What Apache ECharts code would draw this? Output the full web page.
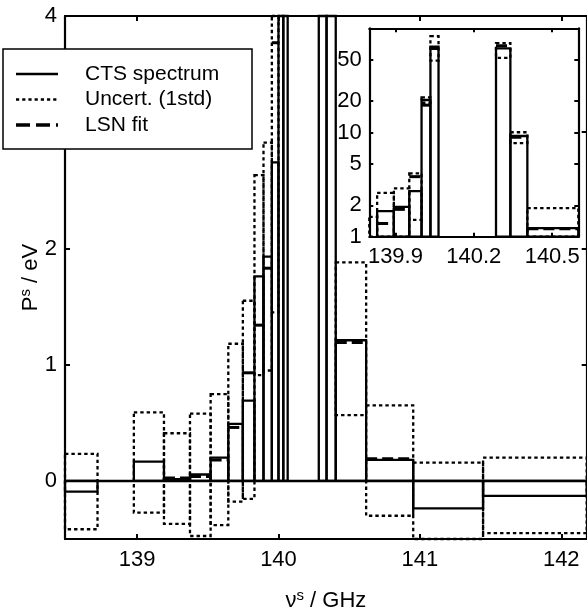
<!DOCTYPE html>
<html><head><meta charset="utf-8">
<script src="https://cdn.jsdelivr.net/npm/echarts@6/dist/echarts.min.js"></script>
<style>html,body{margin:0;padding:0;background:#fff}#c{width:587px;height:612px}</style>
</head><body><div id="c"></div>
<script>
// ---- data (GHz, eV) ----
const binLeft  = [138.28, 138.977, 139.19, 139.374, 139.52, 139.645, 139.748, 139.830, 139.894, 139.953, 140.000, 140.034, 140.285, 140.340, 140.405, 140.620, 140.953, 141.447];
const binRight = [138.72, 139.19, 139.374, 139.52, 139.645, 139.748, 139.830, 139.894, 139.953, 140.000, 140.034, 140.065, 140.340, 140.405, 140.620, 140.953, 141.447, 142.30];
const ctsValues   = [-0.092, 0.166, 0.015, 0.055, 0.20, 0.49, 0.69, 1.76, 1.93, 2.74, 20.5, 66.5, 64.3, 9.26, 1.21, 0.181, -0.236, -0.129];
const lsnValues   = [0.0, 0.0, 0.025, 0.037, 0.18, 0.46, 0.93, 1.34, 1.83, 3.77, 18.3, 64.0, 68.0, 9.0, 1.19, 0.19, 0.0, 0.0];
const upperValues = [0.233, 0.589, 0.41, 0.578, 0.747, 1.18, 1.55, 2.63, 2.91, 4.06, 21.7, 84.0, 72.0, 10.05, 1.88, 0.65, 0.158, 0.20];
const lowerValues = [-0.416, -0.273, -0.37, -0.474, -0.38, -0.178, -0.155, 0.91, 0.95, 1.45, 19.3, 49.0, 52.0, 7.9, 0.566, -0.30, -0.63, -0.45];
const mainXTicks  = [139, 140, 141, 142];
const mainYTicks  = [0, 1, 2, 3, 4];
const insetXTicks = [139.9, 140.2, 140.5];
const insetYTicks = [1, 2, 5, 10, 20, 50];
const legendLabels = ['CTS spectrum', 'Uncert. (1std)', 'LSN fit'];

const FONT = '"Liberation Sans", Arial, Helvetica, sans-serif';
const chart = echarts.init(document.getElementById('c'), null, {renderer: 'canvas', width: 587, height: 612});

const ctsRows = binLeft.map((l, i) => [l, binRight[i], 0, ctsValues[i]]);
const uncRows = binLeft.map((l, i) => [l, binRight[i], lowerValues[i], upperValues[i]]);
const lsnRows = binLeft.map((l, i) => [l, binRight[i], lsnValues[i]]);

function rectRender(style, logMode) {
  return function (params, api) {
    const l = api.value(0), r = api.value(1);
    let lo = api.value(2), hi = api.value(3);
    if (logMode) { lo = Math.log10(Math.max(lo, 0.1)); hi = Math.log10(Math.max(hi, 0.1)); }
    const p0 = api.coord([l, lo]), p1 = api.coord([r, hi]);
    const rect = {x: Math.min(p0[0], p1[0]), y: Math.min(p0[1], p1[1]),
                  width: Math.abs(p1[0] - p0[0]), height: Math.abs(p1[1] - p0[1])};
    const cs = params.coordSys;
    const c = echarts.graphic.clipRectByRect(rect, {x: cs.x, y: cs.y, width: cs.width, height: cs.height});
    if (!c) return null;
    return {type: 'rect', shape: c, style: Object.assign({fill: 'none'}, style)};
  };
}
function segRender(style, logMode) {
  return function (params, api) {
    const l = api.value(0), r = api.value(1);
    let v = api.value(2);
    if (v === 0) return null;
    if (logMode) { if (v <= 0) return null; v = Math.log10(v); }
    const p0 = api.coord([l, v]), p1 = api.coord([r, v]);
    const cs = params.coordSys;
    if (p0[1] < cs.y - 0.5 || p0[1] > cs.y + cs.height + 0.5) return null;
    const x0 = Math.max(cs.x, Math.min(p0[0], p1[0]));
    const x1 = Math.min(cs.x + cs.width, Math.max(p0[0], p1[0]));
    if (x1 <= x0) return null;
    return {type: 'line', shape: {x1: x0, y1: p0[1], x2: x1, y2: p0[1]}, style: Object.assign({fill: 'none'}, style)};
  };
}

const solidStyle = {stroke: '#000', lineWidth: 2.3};
const dotStyle = {stroke: '#000', lineWidth: 2.3, lineDash: [3.4, 3]};
const dashStyle = {stroke: '#000', lineWidth: 3, lineDash: [11, 5]};

function seriesSet(xi, yi, logMode, zBase) {
  return [
    {type: 'custom', name: legendLabels[1], xAxisIndex: xi, yAxisIndex: yi, z: zBase, data: uncRows,
     encode: {x: [0, 1], y: [2, 3]}, renderItem: rectRender(dotStyle, logMode), silent: true},
    {type: 'custom', name: legendLabels[0], xAxisIndex: xi, yAxisIndex: yi, z: zBase + 1, data: ctsRows,
     encode: {x: [0, 1], y: [2, 3]}, renderItem: rectRender(solidStyle, logMode), silent: true,
     markLine: logMode ? undefined : {silent: true, symbol: 'none', label: {show: false},
       lineStyle: {color: '#000', width: 2.4, type: 'solid'}, data: [{yAxis: 0}]}},
    {type: 'custom', name: legendLabels[2], xAxisIndex: xi, yAxisIndex: yi, z: zBase + 2, data: lsnRows,
     encode: {x: [0, 1], y: 2}, renderItem: segRender(dashStyle, logMode), silent: true}
  ];
}

const axLine = {show: true, onZero: false, lineStyle: {color: '#000', width: 2.2}};
const tickStyle = {color: '#000', width: 2};
const labelBase = {color: '#000', fontSize: 22, fontFamily: FONT};

const mainXMin = 138.49, mainXMax = 142.18;
const option = {
  backgroundColor: '#fff',
  animation: false,
  grid: [
    {left: 65, top: 16, width: 521.7, height: 523, outerBoundsMode: 'none', containLabel: false},
    {left: 369.3, top: 28.3, width: 209, height: 208.4, outerBoundsMode: 'none', containLabel: false,
     show: true, backgroundColor: '#fff', borderWidth: 0, z: 6}
  ],
  xAxis: [
    {type: 'value', gridIndex: 0, min: mainXMin, max: mainXMax, position: 'bottom',
     axisLine: axLine, splitLine: {show: false},
     axisTick: {inside: true, length: 5, customValues: mainXTicks, lineStyle: tickStyle},
     axisLabel: Object.assign({customValues: mainXTicks, margin: 10}, labelBase),
     name: '{n|ν}{s|s}{n| / GHz}', nameLocation: 'middle', nameGap: 49,
     nameTextStyle: {rich: {n: {fontSize: 22, fontFamily: FONT, color: '#000', lineHeight: 26},
                            s: {fontSize: 15, fontFamily: FONT, color: '#000', lineHeight: 12, verticalAlign: 'top'}}}},
    {type: 'value', gridIndex: 0, min: mainXMin, max: mainXMax, position: 'top',
     axisLine: axLine, splitLine: {show: false}, axisLabel: {show: false},
     axisTick: {inside: true, length: 5, customValues: mainXTicks, lineStyle: tickStyle}},
    {type: 'value', gridIndex: 1, min: 139.8, max: 140.6, position: 'bottom', z: 12,
     axisLine: axLine, splitLine: {show: false},
     axisTick: {inside: true, length: 4, customValues: insetXTicks, lineStyle: tickStyle},
     axisLabel: Object.assign({customValues: insetXTicks, margin: 9, formatter: v => v.toFixed(1)}, labelBase)},
    {type: 'value', gridIndex: 1, min: 139.8, max: 140.6, position: 'top', z: 12,
     axisLine: axLine, splitLine: {show: false}, axisLabel: {show: false},
     axisTick: {inside: true, length: 4, customValues: insetXTicks, lineStyle: tickStyle}}
  ],
  yAxis: [
    {type: 'value', gridIndex: 0, min: -0.5, max: 4, position: 'left',
     axisLine: axLine, splitLine: {show: false},
     axisTick: {inside: true, length: 5, customValues: mainYTicks, lineStyle: tickStyle},
     axisLabel: Object.assign({customValues: mainYTicks, margin: 8}, labelBase),
     name: '{n|P}{s|s}{n| / eV}', nameLocation: 'middle', nameGap: 21, nameMoveOverlap: false,
     nameTextStyle: {rich: {n: {fontSize: 22, fontFamily: FONT, color: '#000', lineHeight: 26},
                            s: {fontSize: 15, fontFamily: FONT, color: '#000', lineHeight: 12, verticalAlign: 'top'}}}},
    {type: 'value', gridIndex: 0, min: -0.5, max: 4, position: 'right',
     axisLine: axLine, splitLine: {show: false}, axisLabel: {show: false},
     axisTick: {inside: true, length: 5, customValues: mainYTicks, lineStyle: tickStyle}},
    {type: 'value', gridIndex: 1, min: 0, max: 2, position: 'left', z: 12,
     axisLine: axLine, splitLine: {show: false},
     axisTick: {inside: true, length: 4, customValues: insetYTicks.map(Math.log10), lineStyle: tickStyle},
     axisLabel: Object.assign({customValues: insetYTicks.map(Math.log10), margin: 7.5,
       formatter: v => String(Math.round(Math.pow(10, v)))}, labelBase)},
    {type: 'value', gridIndex: 1, min: 0, max: 2, position: 'right', z: 12,
     axisLine: axLine, splitLine: {show: false}, axisLabel: {show: false},
     axisTick: {inside: true, length: 4, customValues: insetYTicks.map(Math.log10), lineStyle: tickStyle}}
  ],
  series: [].concat(seriesSet(0, 0, false, 2), seriesSet(2, 2, true, 10)),
  graphic: [{
    type: 'group', z: 100, children: [
      {type: 'rect', z: 100, shape: {x: 3, y: 49, width: 249, height: 100}, style: {fill: '#fff', stroke: '#000', lineWidth: 1.5}},
      {type: 'line', z: 101, shape: {x1: 16, y1: 74, x2: 58, y2: 74}, style: {stroke: '#000', lineWidth: 2.5}},
      {type: 'line', z: 101, shape: {x1: 16, y1: 99.5, x2: 58, y2: 99.5}, style: {stroke: '#000', lineWidth: 2.5, lineDash: [3.2, 3]}},
      {type: 'line', z: 101, shape: {x1: 16, y1: 125, x2: 58, y2: 125}, style: {stroke: '#000', lineWidth: 3.5, lineDash: [14, 6]}},
      {type: 'text', z: 101, x: 85, y: 74, style: {text: legendLabels[0], fill: '#000', font: '21px ' + FONT, verticalAlign: 'middle'}},
      {type: 'text', z: 101, x: 85, y: 99.5, style: {text: legendLabels[1], fill: '#000', font: '21px ' + FONT, verticalAlign: 'middle'}},
      {type: 'text', z: 101, x: 85, y: 125, style: {text: legendLabels[2], fill: '#000', font: '21px ' + FONT, verticalAlign: 'middle'}}
    ]
  }]
};
chart.setOption(option);
</script>
</body></html>
